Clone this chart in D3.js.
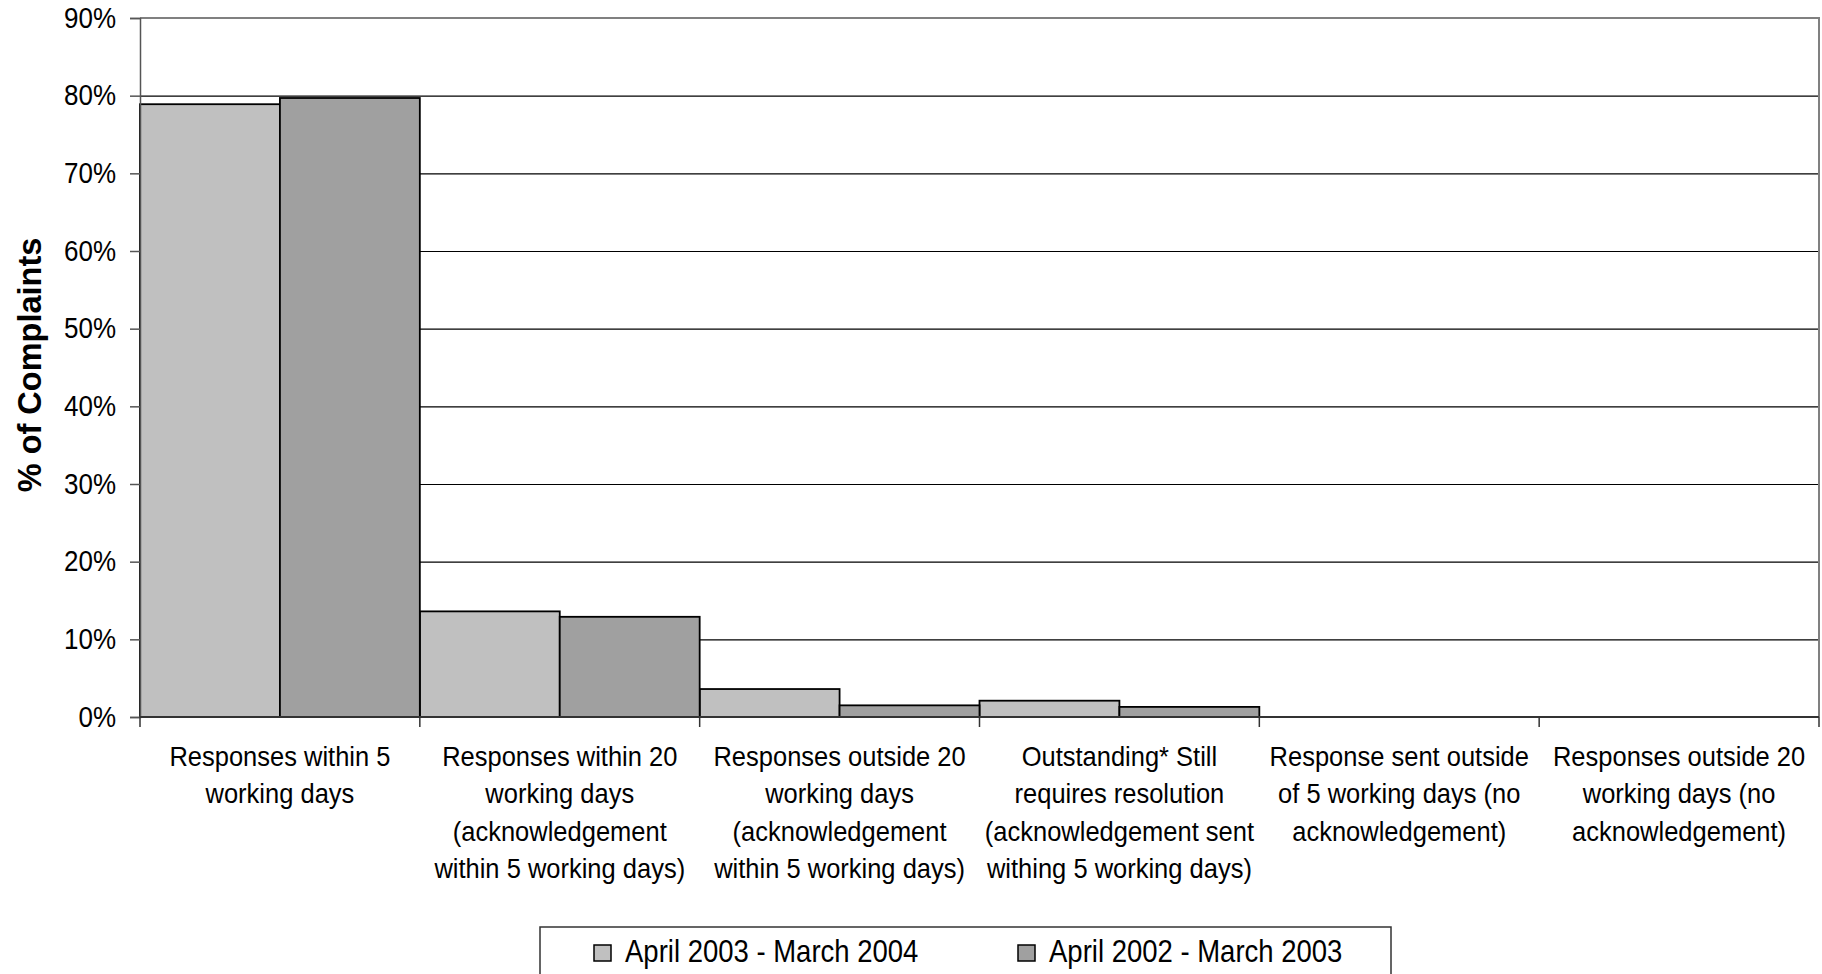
<!DOCTYPE html>
<html>
<head>
<meta charset="utf-8">
<script src="https://cdn.jsdelivr.net/npm/d3@7"></script>
<style>
  body{margin:0;background:#fff;}
  text{font-family:Arial,"Liberation Sans",sans-serif;fill:#000;}
</style>
</head>
<body>
<div id="chart"></div>
<script>
var categories = [
  ["Responses within 5", "working days"],
  ["Responses within 20", "working days", "(acknowledgement", "within 5 working days)"],
  ["Responses outside 20", "working days", "(acknowledgement", "within 5 working days)"],
  ["Outstanding* Still", "requires resolution", "(acknowledgement sent", "withing 5 working days)"],
  ["Response sent outside", "of 5 working days (no", "acknowledgement)"],
  ["Responses outside 20", "working days (no", "acknowledgement)"]
];
var seriesNames = ["April 2003 - March 2004", "April 2002 - March 2003"];
var values2003 = [78.9, 13.6, 3.6, 2.1, 0, 0];
var values2002 = [79.7, 12.9, 1.5, 1.3, 0, 0];
var yTicks = [0, 10, 20, 30, 40, 50, 60, 70, 80, 90];

var colors = ["#c0c0c0", "#a0a0a0"];
var stretch = 1.12; // text in the picture is a bit taller than wide

drawcolumn();

function drawcolumn(){
  var width = 1822;
  var height = 974;
  var left = 140, right = 1819, top = 18, bottom = 717;

  var svg = d3.select("#chart")
      .append("svg")
      .attr("width", width)
      .attr("height", height);

  var idx = d3.range(categories.length);

  var xScale = d3.scaleBand()
      .domain(idx)
      .range([left, right])
      .padding(0);

  var xSub = d3.scaleBand()
      .domain([0, 1])
      .range([0, xScale.bandwidth()])
      .padding(0);

  var yScale = d3.scaleLinear()
      .domain([0, 90])
      .range([bottom, top]);

  // gridlines
  svg.append("g")
    .attr("class", "grid")
    .attr("transform", "translate(" + left + ",0)")
    .call(d3.axisLeft(yScale)
      .tickValues(yTicks.filter(function(d){ return d > 0 && d < 90; }))
      .tickSize(-(right - left))
      .tickFormat(""))
    .call(function(g){
      g.select(".domain").remove();
      g.selectAll("line").attr("stroke", "#000").attr("stroke-width", 1.2);
    });

  // plot border (top and right in grey)
  svg.append("path")
    .attr("d", "M" + left + "," + yScale(90) + "H" + right + "V" + bottom)
    .attr("fill", "none")
    .attr("stroke", "#808080")
    .attr("stroke-width", 2);

  var data = [values2003, values2002];

  for (var s = 0; s < 2; s++) {
    svg.append("g")
      .selectAll("rect")
      .data(data[s])
      .enter()
      .append("rect")
      .attr("x", function(d, i){ return xScale(i) + xSub(s); })
      .attr("y", function(d){ return yScale(d); })
      .attr("width", xSub.bandwidth())
      .attr("height", function(d){ return bottom - yScale(d); })
      .attr("fill", colors[s])
      .attr("stroke", "#000")
      .attr("stroke-width", function(d){ return d > 0 ? 1.8 : 0; });
  }

  // y axis
  svg.append("g")
    .attr("transform", "translate(" + left + ",0)")
    .call(d3.axisLeft(yScale)
      .tickValues(yTicks)
      .tickSize(10)
      .tickPadding(14)
      .tickFormat(function(d){ return d + "%"; }))
    .call(function(g){
      g.select(".domain").attr("stroke", "#555").attr("stroke-width", 1.5);
      g.selectAll("line").attr("stroke", "#555").attr("stroke-width", 1.5);
      g.selectAll("text")
        .attr("font-size", 26)
        .attr("font-family", "Arial, 'Liberation Sans', sans-serif")
        .attr("fill", "#000")
        .attr("dy", "0.32em")
        .attr("transform", "scale(1," + stretch + ")");
    });

  // x axis line
  svg.append("line")
    .attr("x1", left).attr("x2", right)
    .attr("y1", bottom).attr("y2", bottom)
    .attr("stroke", "#333")
    .attr("stroke-width", 2);

  // x ticks at category boundaries
  var bounds = idx.map(function(i){ return xScale(i); }).concat([xScale.range()[1]]);
  svg.append("g")
    .selectAll("line")
    .data(bounds)
    .enter()
    .append("line")
    .attr("x1", function(d){ return d; })
    .attr("x2", function(d){ return d; })
    .attr("y1", bottom)
    .attr("y2", bottom + 10)
    .attr("stroke", "#333")
    .attr("stroke-width", 1.5);

  // category labels
  var labels = svg.append("g")
    .selectAll("text")
    .data(categories)
    .enter()
    .append("text")
    .attr("text-anchor", "middle")
    .attr("font-size", 25.5)
    .attr("transform", function(d, i){
      return "translate(" + (xScale(i) + xScale.bandwidth() / 2) + ",766) scale(1," + stretch + ")";
    });
  labels.selectAll("tspan")
    .data(function(d){ return d; })
    .enter()
    .append("tspan")
    .attr("x", 0)
    .attr("y", function(d, i){ return i * 37.5 / stretch; })
    .text(function(d){ return d; });

  // y title
  svg.append("text")
    .attr("text-anchor", "middle")
    .attr("font-size", 32.5)
    .attr("font-weight", "bold")
    .attr("transform", "translate(41,365) rotate(-90)")
    .text("% of Complaints");

  // legend
  var lg = svg.append("g");
  lg.append("rect")
    .attr("x", 540).attr("y", 927)
    .attr("width", 851).attr("height", 70)
    .attr("fill", "#fff")
    .attr("stroke", "#333")
    .attr("stroke-width", 1.5);

  var legendX = [594, 1018];
  var items = lg.selectAll("g.item")
    .data(seriesNames)
    .enter()
    .append("g")
    .attr("class", "item")
    .attr("transform", function(d, i){ return "translate(" + legendX[i] + ",0)"; });
  items.append("rect")
    .attr("x", 0).attr("y", 945)
    .attr("width", 17).attr("height", 16)
    .attr("fill", function(d, i){ return colors[i]; })
    .attr("stroke", "#000")
    .attr("stroke-width", 1.5);
  items.append("text")
    .attr("transform", "translate(31,962) scale(1," + stretch + ")")
    .attr("font-size", 27.5)
    .text(function(d){ return d; });
}
</script>
</body>
</html>
